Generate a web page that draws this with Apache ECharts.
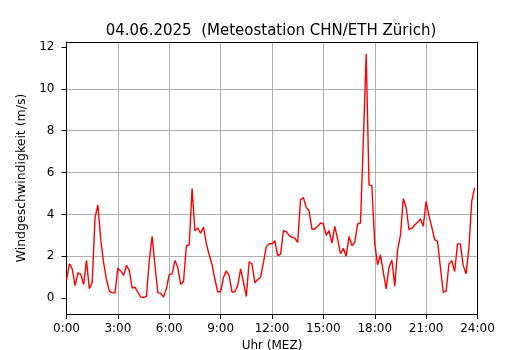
<!DOCTYPE html>
<html>
<head>
<meta charset="utf-8">
<script src="https://cdn.jsdelivr.net/npm/echarts@6/dist/echarts.min.js"></script>
<style>
html,body{margin:0;padding:0;background:#fff;}
#chart{width:530px;height:350px;}
</style>
</head>
<body>
<div id="chart"></div>
<script>
const titleText = '04.06.2025  (Meteostation CHN/ETH Zürich)';
const xAxisName = 'Uhr (MEZ)';
const yAxisName = 'Windgeschwindigkeit (m/s)';
const stepMinutes = 10; // one reading every 10 minutes from 0:00
const windSpeed = [
  0.85, 1.65, 1.4, 0.6, 1.2, 1.15, 0.65, 1.8, 0.45, 0.75,
  3.85, 4.45, 2.8, 1.7, 0.9, 0.33, 0.25, 0.25, 1.43, 1.3,
  1.08, 1.56, 1.33, 0.48, 0.52, 0.28, 0.05, 0.03, 0.08, 1.8,
  2.95, 1.56, 0.25, 0.24, 0.05, 0.44, 1.13, 1.16, 1.8, 1.47,
  0.65, 0.79, 2.5, 2.54, 5.24, 3.22, 3.35, 3.1, 3.4, 2.6,
  2.06, 1.6, 0.9, 0.3, 0.3, 0.98, 1.3, 1.07, 0.28, 0.31,
  0.6, 1.4, 0.76, 0.08, 1.74, 1.63, 0.73, 0.89, 1.0, 1.7,
  2.46, 2.6, 2.6, 2.74, 2.03, 2.1, 3.22, 3.17, 3.0, 2.9,
  2.87, 2.66, 4.7, 4.8, 4.33, 4.17, 3.3, 3.3, 3.43, 3.59,
  3.54, 3.0, 3.22, 2.63, 3.43, 2.82, 2.11, 2.38, 2.0, 2.95,
  2.5, 2.67, 3.54, 3.59, 7.5, 11.68, 5.41, 5.36, 2.59, 1.59,
  2.07, 1.24, 0.44, 1.47, 1.82, 0.57, 2.3, 3.0, 4.76, 4.33,
  3.27, 3.33, 3.49, 3.62, 3.78, 3.43, 4.62, 3.94, 3.38, 2.79,
  2.71, 1.47, 0.28, 0.33, 1.63, 1.79, 1.27, 2.59, 2.59, 1.56,
  1.16, 2.43, 4.65, 5.28
];
const xTickHours = [0, 3, 6, 9, 12, 15, 18, 21, 24];
const yTicks = [0, 2, 4, 6, 8, 10, 12];

const seriesData = windSpeed.map((v, i) => [i * stepMinutes, v]);
const font = 'DejaVu Sans';

const chart = echarts.init(document.getElementById('chart'), null, {renderer: 'canvas'});
chart.setOption({
  animation: false,
  backgroundColor: '#fff',
  title: {
    text: titleText,
    left: 266, top: 19, textAlign: 'center',
    textStyle: {fontFamily: font, fontSize: 15, fontWeight: 'normal', color: '#000'}
  },
  grid: {
    left: 66.5, right: 52.5, top: 42, bottom: 36,
    outerBoundsMode: 'none', containLabel: false,
    show: false
  },
  xAxis: [{
    type: 'value', min: 0, max: 1440, interval: 180,
    name: xAxisName, nameLocation: 'middle', nameGap: 24,
    nameTextStyle: {fontFamily: font, fontSize: 12, color: '#000'},
    axisLine: {show: true, onZero: false, lineStyle: {color: '#000', width: 1}},
    axisTick: {show: true, inside: false, length: 5, lineStyle: {color: '#000'}},
    axisLabel: {
      fontFamily: font, fontSize: 12, color: '#000', margin: 9,
      formatter: v => (xTickHours.includes(v / 60) ? (v / 60) + ':00' : '')
    },
    splitLine: {show: true, showMinLine: false, showMaxLine: false, lineStyle: {color: '#b0b0b0', width: 1}},
    z: 3
  }, {
    type: 'value', position: 'top', min: 0, max: 1440,
    axisLine: {show: true, onZero: false, lineStyle: {color: '#000', width: 1}},
    axisTick: {show: false}, axisLabel: {show: false}, splitLine: {show: false},
    z: 3
  }],
  yAxis: [{
    type: 'value', min: -0.76, max: 12.24,
    name: yAxisName, nameLocation: 'middle', nameGap: 35,
    nameTextStyle: {fontFamily: font, fontSize: 12.5, color: '#000'},
    axisLine: {show: true, onZero: false, lineStyle: {color: '#000', width: 1}},
    axisTick: {show: true, inside: false, length: 5, customValues: yTicks, lineStyle: {color: '#000'}},
    axisLabel: {
      fontFamily: font, fontSize: 12, color: '#000', margin: 12,
      customValues: yTicks,
      formatter: v => String(v)
    },
    splitLine: {show: true, showMinLine: false, showMaxLine: false, lineStyle: {color: '#b0b0b0', width: 1}},
    z: 3
  }, {
    type: 'value', position: 'right', min: -0.76, max: 12.24,
    axisLine: {show: true, onZero: false, lineStyle: {color: '#000', width: 1}},
    axisTick: {show: false}, axisLabel: {show: false}, splitLine: {show: false},
    z: 3
  }],
  series: [{
    type: 'line',
    data: seriesData,
    showSymbol: false,
    lineStyle: {color: '#ff0000', width: 1.4},
    itemStyle: {color: '#ff0000'}
  }]
});
</script>
</body>
</html>
